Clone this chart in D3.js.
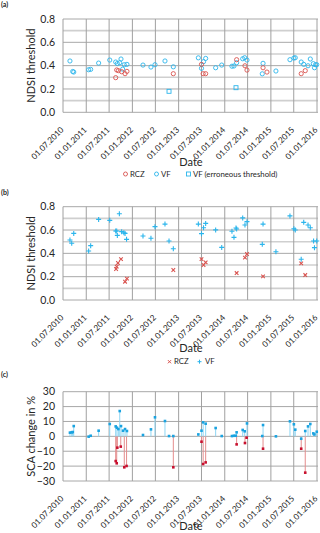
<!DOCTYPE html>
<html><head><meta charset="utf-8">
<script src="https://cdn.jsdelivr.net/npm/d3@7/dist/d3.min.js"></script>
<style>
html,body{margin:0;padding:0;background:#fff;}
svg{display:block;font-family:Lato,"Open Sans",sans-serif;}
</style></head><body>
<svg id="c" width="320" height="533"></svg>
<script>
// ---------- DATA ----------
const xTickDates = ["2010-07-01","2011-01-01","2011-07-01","2012-01-01","2012-07-01","2013-01-01","2013-07-01","2014-01-01","2014-07-01","2015-01-01","2015-07-01","2016-01-01"];
const thrTicks = [0.0,0.2,0.4,0.6,0.8];
const scaTicks = [-30,-20,-10,0,10,20,30];

// Panel (a): NDSI threshold
const aVFDates = ["2010-08-25","2010-09-16","2010-09-24","2011-01-20","2011-02-05","2011-04-09","2011-07-06","2011-08-22","2011-09-04","2011-09-23","2011-10-03","2011-10-16","2011-10-29","2011-11-19","2012-03-25","2012-05-27","2012-06-28","2012-09-15","2012-11-20","2013-06-06","2013-07-01","2013-07-17","2013-08-03","2013-10-21","2013-12-08","2014-02-27","2014-03-15","2014-04-05","2014-05-23","2014-06-08","2014-06-26","2014-10-25","2014-10-31","2015-02-10","2015-06-01","2015-07-02","2015-07-13","2015-08-29","2015-09-18","2015-10-22","2015-11-09","2015-12-03","2015-12-12","2015-12-20","2015-12-30"];
const aVFValues = [0.44,0.35,0.345,0.365,0.368,0.422,0.448,0.431,0.418,0.425,0.457,0.37,0.408,0.411,0.405,0.388,0.408,0.44,0.39,0.467,0.377,0.434,0.462,0.382,0.405,0.395,0.397,0.425,0.459,0.468,0.448,0.33,0.42,0.354,0.451,0.465,0.468,0.431,0.411,0.399,0.457,0.417,0.382,0.408,0.408];
const aErrDates = ["2012-10-17","2014-03-31"];
const aErrValues = [0.18,0.211];
const aRCZDates = ["2011-08-22","2011-08-30","2011-09-12","2011-10-08","2011-11-04","2011-11-19","2012-11-20","2013-07-01","2013-07-14","2013-08-03","2014-04-05","2014-06-10","2014-06-26","2014-10-31","2014-12-01","2015-08-29","2015-09-30"];
const aRCZValues = [0.297,0.363,0.357,0.348,0.331,0.351,0.331,0.411,0.331,0.331,0.451,0.399,0.362,0.382,0.345,0.331,0.357];

// Panel (b): NDSI threshold
const bVFDates = ["2010-08-25","2010-09-08","2010-09-24","2011-01-20","2011-02-05","2011-04-09","2011-07-06","2011-08-22","2011-08-30","2011-09-04","2011-09-20","2011-10-08","2011-10-26","2011-11-04","2011-11-16","2012-03-25","2012-05-27","2012-06-28","2012-09-15","2012-10-17","2012-11-20","2013-06-06","2013-07-01","2013-07-17","2013-08-03","2013-10-21","2013-12-08","2014-02-27","2014-03-15","2014-03-31","2014-04-05","2014-05-23","2014-06-10","2014-06-26","2014-10-25","2014-10-31","2015-02-10","2015-06-01","2015-07-02","2015-07-13","2015-08-29","2015-09-18","2015-10-22","2015-11-09","2015-12-05","2015-12-12","2015-12-30"];
const bVFValues = [0.514,0.486,0.571,0.42,0.466,0.691,0.683,0.591,0.591,0.554,0.74,0.586,0.577,0.571,0.52,0.549,0.529,0.629,0.651,0.506,0.44,0.651,0.569,0.62,0.657,0.601,0.451,0.589,0.537,0.617,0.609,0.704,0.643,0.672,0.477,0.651,0.414,0.721,0.611,0.6,0.35,0.666,0.643,0.62,0.506,0.449,0.506];
const bRCZDates = ["2011-08-25","2011-08-30","2011-09-09","2011-10-03","2011-11-04","2011-11-19","2012-11-20","2013-07-01","2013-07-17","2013-08-03","2014-04-05","2014-06-10","2014-06-26","2014-10-31","2015-08-29","2015-09-30"];
const bRCZValues = [0.266,0.286,0.317,0.351,0.157,0.183,0.257,0.351,0.3,0.323,0.231,0.363,0.394,0.203,0.314,0.214];

// Panel (c): SCA change in %
const cVFDates = ["2010-08-25","2010-09-08","2010-09-16","2010-09-24","2011-01-20","2011-02-05","2011-04-09","2011-07-06","2011-08-22","2011-09-01","2011-09-12","2011-09-23","2011-10-03","2011-10-19","2011-11-04","2011-11-19","2012-03-25","2012-05-27","2012-06-28","2012-09-15","2012-10-17","2012-11-20","2013-06-06","2013-07-01","2013-07-14","2013-08-03","2013-10-21","2013-12-08","2014-02-27","2014-03-15","2014-03-29","2014-04-05","2014-05-23","2014-06-08","2014-06-26","2014-10-25","2014-10-31","2015-02-10","2015-06-01","2015-07-02","2015-07-13","2015-08-29","2015-09-30","2015-10-22","2015-11-09","2015-12-03","2015-12-12","2015-12-30"];
const cVFValues = [2.5,2.7,2.9,6.9,-0.2,0.4,3.8,8.3,6.7,5.8,4.9,17,6.9,3.8,4.9,3.6,0.9,4.7,12.8,10.3,0.2,0.2,1.3,3.8,9.4,8.5,5.6,0.2,0.2,0.4,0.4,2.7,4.3,3.4,8.7,0.2,7.6,0,10.1,8.1,4.5,-1.6,3.6,6.7,8.3,2.0,1.3,3.1];
const cRCZDates = ["2011-08-22","2011-08-30","2011-09-04","2011-10-01","2011-10-29","2011-11-16","2012-11-20","2013-07-01","2013-07-14","2013-08-03","2014-04-05","2014-06-10","2014-06-23","2014-10-31","2015-08-29","2015-09-30"];
const cRCZValues = [-16.6,-18.1,-7.6,-6.9,-20.8,-19.9,-20.8,-3.6,-18.6,-17.5,-5.4,-4.5,-0.9,-8.3,-8.3,-24.4];

// ---------- DRAW ----------
const parse = d3.timeParse("%Y-%m-%d");
const fmt = d3.timeFormat("%d.%m.%Y");
const svg = d3.select("#c");
const TXT = "#262626";
const BLUE = "#2bb5ec", RED = "#d9534f";
const L = 63, R = 317;
const x = d3.scaleTime().domain([parse(xTickDates[0]), parse(xTickDates[xTickDates.length-1])]).range([L, R]);
const zip = (ds, vs) => ds.map((d,i) => ({d: parse(d), v: vs[i]}));

function frame(top, bottom, domain, ticks, minor, ylabel, tickFmt, dateOffset) {
  const y = d3.scaleLinear().domain(domain).range([bottom, top]);
  const g = svg.append("g");
  g.selectAll(".mn").data(minor).join("line")
    .attr("x1", L).attr("x2", R+1).attr("y1", d => y(d)).attr("y2", d => y(d))
    .attr("stroke", "#cfcfcf").attr("stroke-width", 1.6);
  g.selectAll(".mj").data(ticks).join("line")
    .attr("x1", L).attr("x2", R+1).attr("y1", d => y(d)).attr("y2", d => y(d))
    .attr("stroke", "#a8a8a8").attr("stroke-width", 1);
  g.selectAll(".vg").data(xTickDates.map(parse)).join("line")
    .attr("x1", d => x(d)).attr("x2", d => x(d)).attr("y1", top).attr("y2", bottom)
    .attr("stroke", "#a0a0a0").attr("stroke-width", 1);
  g.selectAll(".yl").data(ticks).join("text")
    .attr("x", 55).attr("y", d => y(d)).attr("dy", "0.36em")
    .attr("text-anchor", "end").attr("font-size", 10.5).attr("fill", TXT)
    .text(tickFmt);
  g.selectAll(".xl").data(xTickDates.map(parse)).join("text")
    .attr("transform", d => `translate(${x(d)-0.8},${bottom+16}) rotate(-45)`)
    .attr("dy", "0.35em").attr("text-anchor", "end").attr("font-size", 8.2).attr("fill", TXT)
    .text(d => fmt(d));
  g.append("text").attr("transform", `translate(35,${(top+bottom)/2}) rotate(-90)`)
    .attr("text-anchor", "middle").attr("font-size", 11).attr("fill", TXT).text(ylabel);
  g.append("text").attr("x", 191).attr("y", bottom + dateOffset).attr("dy", "0.35em")
    .attr("text-anchor", "middle").attr("font-size", 11).attr("fill", TXT).text("Date");
  return y;
}

function panelLabel(t, yy) {
  svg.append("text").attr("x", 1).attr("y", yy).attr("dy", "0.35em")
    .attr("font-size", 7).attr("font-weight", "bold").attr("fill", "#222").text(t);
}

// ---- Panel (a)
panelLabel("(a)", 5);
const ya = frame(19, 112.3, [0, 0.8], thrTicks, [0.1,0.3,0.5,0.7], "NDSI threshold", d => d.toFixed(1), 50);
const ga = svg.append("g");
ga.selectAll(".vf").data(zip(aVFDates, aVFValues)).join("circle")
  .attr("cx", d => x(d.d)).attr("cy", d => ya(d.v)).attr("r", 2.1)
  .attr("fill", "none").attr("stroke", BLUE).attr("stroke-width", 0.9);
ga.selectAll(".rcz").data(zip(aRCZDates, aRCZValues)).join("circle")
  .attr("cx", d => x(d.d)).attr("cy", d => ya(d.v)).attr("r", 2.1)
  .attr("fill", "none").attr("stroke", RED).attr("stroke-width", 0.9);
ga.selectAll(".er").data(zip(aErrDates, aErrValues)).join("rect")
  .attr("x", d => x(d.d)-2).attr("y", d => ya(d.v)-2).attr("width", 4).attr("height", 4)
  .attr("fill", "none").attr("stroke", BLUE).attr("stroke-width", 0.9);
const la = svg.append("g").attr("font-size", 7.8).attr("fill", TXT);
la.append("circle").attr("cx", 125.5).attr("cy", 174).attr("r", 2).attr("fill","none").attr("stroke", RED).attr("stroke-width",0.9);
la.append("text").attr("x", 130).attr("y", 174).attr("dy","0.35em").text("RCZ");
la.append("circle").attr("cx", 156.5).attr("cy", 174).attr("r", 2).attr("fill","none").attr("stroke", BLUE).attr("stroke-width",0.9);
la.append("text").attr("x", 161).attr("y", 174).attr("dy","0.35em").text("VF");
la.append("rect").attr("x", 186.5).attr("y", 172).attr("width",4).attr("height",4).attr("fill","none").attr("stroke", BLUE).attr("stroke-width",0.9);
la.append("text").attr("x", 193).attr("y", 174).attr("dy","0.35em").text("VF (erroneous threshold)");

// ---- Panel (b)
panelLabel("(b)", 193);
const yb = frame(206.7, 300, [0, 0.8], thrTicks, [0.1,0.3,0.5,0.7], "NDSI threshold", d => d.toFixed(1), 48.5);
const gb = svg.append("g");
gb.selectAll(".vf").data(zip(bVFDates, bVFValues)).join("path")
  .attr("transform", d => `translate(${x(d.d)},${yb(d.v)})`)
  .attr("d", "M-2.5,0H2.5M0,-2.5V2.5").attr("stroke", BLUE).attr("stroke-width", 1.1);
gb.selectAll(".rcz").data(zip(bRCZDates, bRCZValues)).join("path")
  .attr("transform", d => `translate(${x(d.d)},${yb(d.v)})`)
  .attr("d", "M-1.8,-1.8L1.8,1.8M-1.8,1.8L1.8,-1.8").attr("stroke", RED).attr("stroke-width", 1.1);
const lb = svg.append("g").attr("font-size", 7.8).attr("fill", TXT);
lb.append("path").attr("transform","translate(169.5,361.7)").attr("d","M-1.6,-1.6L1.6,1.6M-1.6,1.6L1.6,-1.6").attr("stroke",RED).attr("stroke-width",1);
lb.append("text").attr("x", 174).attr("y", 361.7).attr("dy","0.35em").text("RCZ");
lb.append("path").attr("transform","translate(199.5,361.7)").attr("d","M-2,0H2M0,-2V2").attr("stroke",BLUE).attr("stroke-width",1);
lb.append("text").attr("x", 205).attr("y", 361.7).attr("dy","0.35em").text("VF");

// ---- Panel (c)
panelLabel("(c)", 375);
const yc = frame(391.7, 481, [-30, 30], scaTicks, [], "SCA change in %", d => d3.format("d")(d), 45.5);
const gc = svg.append("g");
const cVF = zip(cVFDates, cVFValues), cR = zip(cRCZDates, cRCZValues);
gc.selectAll(".rs").data(cR).join("line")
  .attr("x1", d => x(d.d)).attr("x2", d => x(d.d)).attr("y1", yc(0)).attr("y2", d => yc(d.v))
  .attr("stroke", "#e48c8c").attr("stroke-width", 1);
gc.selectAll(".vs").data(cVF).join("line")
  .attr("x1", d => x(d.d)).attr("x2", d => x(d.d)).attr("y1", yc(0)).attr("y2", d => yc(d.v))
  .attr("stroke", "#8ed6f4").attr("stroke-width", 1);
gc.selectAll(".rm").data(cR).join("rect")
  .attr("x", d => x(d.d)-1.3).attr("y", d => yc(d.v)-1.3).attr("width", 2.6).attr("height", 2.6)
  .attr("fill", "#c8102e");
gc.selectAll(".vm").data(cVF).join("rect")
  .attr("x", d => x(d.d)-1.3).attr("y", d => yc(d.v)-1.3).attr("width", 2.6).attr("height", 2.6)
  .attr("fill", "#1aa3e0");
</script>
</body></html>
